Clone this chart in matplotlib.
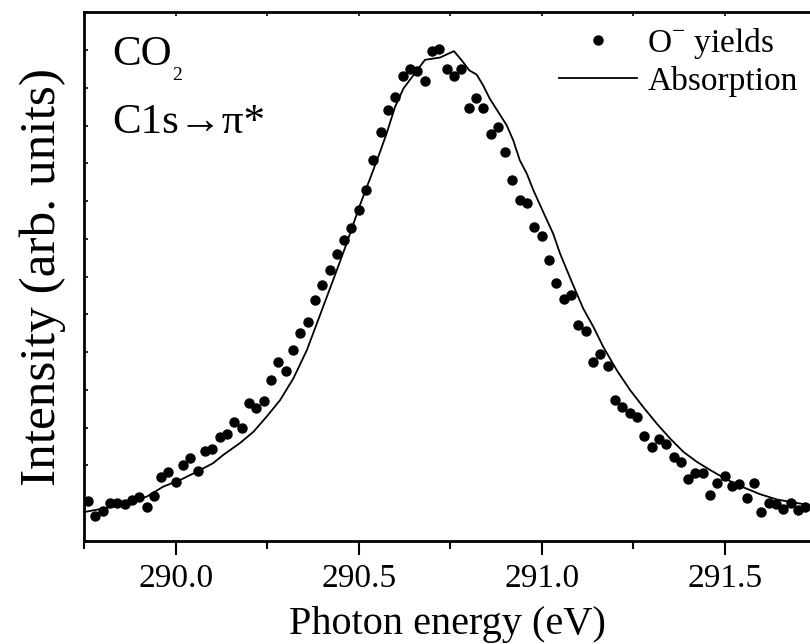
import numpy as np
import matplotlib
matplotlib.use("Agg")
import matplotlib.pyplot as plt
from matplotlib.ticker import MultipleLocator

plt.rcParams["font.family"] = ["Liberation Serif", "DejaVu Serif"]
plt.rcParams["mathtext.fontset"] = "custom"
plt.rcParams["mathtext.rm"] = "Liberation Serif"

# O- ion yield, photon energy grid 0.02 eV
yield_start = 289.76
yield_step = 0.02
o_yield = [1.07, 0.67, 0.79, 1.00, 1.00, 0.97, 1.08, 1.17, 0.91, 1.19,
           1.69, 1.82, 1.55, 2.01, 2.19, 1.86, 2.38, 2.43, 2.74, 2.83,
           3.16, 3.00, 3.64, 3.51, 3.70, 4.27, 4.74, 4.51, 5.05, 5.50,
           5.79, 6.38, 6.77, 7.17, 7.59, 7.96, 8.28, 8.76, 9.29, 10.08,
           10.83, 11.42, 11.75, 12.30, 12.51, 12.44, 12.17, 12.97, 13.02, 12.51,
           12.30, 12.51, 11.47, 11.74, 11.46, 10.77, 10.96, 10.30, 9.55, 9.02,
           8.95, 8.31, 8.08, 7.43, 6.83, 6.42, 6.51, 5.71, 5.56, 4.73,
           4.94, 4.62, 3.73, 3.54, 3.39, 3.29, 2.78, 2.49, 2.70, 2.56,
           2.23, 2.10, 1.64, 1.81, 1.79, 1.22, 1.53, 1.73, 1.46, 1.50,
           1.13, 1.53, 0.77, 1.01, 0.98, 0.84, 1.00, 0.82, 0.91]
yield_energy = yield_start + yield_step * np.arange(len(o_yield))

# absorption spectrum
abs_energy = [289.752, 289.829, 289.875, 289.920, 289.966, 290.011, 290.057,
              290.102, 290.130, 290.175, 290.212, 290.248, 290.285, 290.321,
              290.358, 290.394, 290.430, 290.465, 290.503, 290.531, 290.558,
              290.576, 290.599, 290.622, 290.649, 290.681, 290.722, 290.760,
              290.781, 290.802, 290.822, 290.840, 290.858, 290.881, 290.904,
              290.922, 290.940, 290.959, 290.977, 291.004, 291.031, 291.050,
              291.082, 291.113, 291.141, 291.168, 291.205, 291.241, 291.277,
              291.314, 291.350, 291.387, 291.423, 291.460, 291.505, 291.551,
              291.596, 291.642, 291.687, 291.733]
absorption = [0.77, 0.91, 1.04, 1.17, 1.44, 1.61, 1.83,
              2.06, 2.28, 2.59, 2.89, 3.29, 3.73, 4.30,
              5.05, 5.98, 6.91, 7.83, 8.89, 9.60, 10.30,
              10.79, 11.49, 11.98, 12.33, 12.74, 12.80, 12.97,
              12.73, 12.46, 12.35, 12.06, 11.71, 11.36, 11.01,
              10.61, 10.08, 9.73, 9.29, 8.71, 8.14, 7.61,
              6.86, 6.16, 5.67, 5.14, 4.52, 4.00, 3.55,
              3.11, 2.72, 2.36, 2.10, 1.88, 1.63, 1.42,
              1.24, 1.10, 1.02, 0.95]

fig = plt.figure(figsize=(8.1, 6.44), dpi=100)
ax = fig.add_axes([0.1041, 0.160, 0.8959, 0.821])

ax.plot(yield_energy, o_yield, "o", color="black", ms=6.5, mec="black",
        label=r"O$^{\mathrm{-}}$ yields")
ax.plot(abs_energy, absorption, "-", color="black", lw=1.3, label="Absorption")

ax.set_xlim(289.75, 291.733)
ax.set_ylim(0, 14)
ax.xaxis.set_major_locator(MultipleLocator(0.5))
ax.xaxis.set_minor_locator(MultipleLocator(0.25))
ax.xaxis.set_major_formatter(matplotlib.ticker.FormatStrFormatter("%.1f"))
ax.yaxis.set_major_locator(MultipleLocator(1))
ax.tick_params(axis="x", which="major", direction="out", length=10, width=1.5,
               labelsize=24, pad=6, top=False)
ax.tick_params(axis="x", which="minor", direction="out", length=6, width=1.5, top=False)
ax.tick_params(axis="y", which="major", direction="in", length=3, width=1.2,
               labelleft=False)
for s in ["left", "bottom", "top"]:
    ax.spines[s].set_linewidth(2.0)
ax.spines["right"].set_visible(False)

# small inward ticks on the top spine
sec = ax.secondary_xaxis("top")
sec.xaxis.set_major_locator(MultipleLocator(0.25))
sec.tick_params(direction="in", length=3, width=1.2, labeltop=False)
sec.spines["top"].set_visible(False)

ax.set_xlabel("Photon energy (eV)", fontsize=29, labelpad=9)
ax.set_ylabel("Intensity (arb. units)", fontsize=37, labelpad=13)

ax.text(0.038, 0.900, "CO", transform=ax.transAxes, fontsize=31, va="baseline")
ax.text(0.121, 0.872, "2", transform=ax.transAxes, fontsize=14, va="baseline")
ax.text(0.038, 0.771, "C1s\u2192\u03c0*", transform=ax.transAxes, fontsize=31,
        va="baseline")

ax.legend(loc="upper right", bbox_to_anchor=(0.983, 0.974), frameon=False,
          fontsize=24, handlelength=2.34, handletextpad=0.3, labelspacing=0.15,
          borderpad=0, borderaxespad=0)

fig.savefig("out.png", dpi=100)
